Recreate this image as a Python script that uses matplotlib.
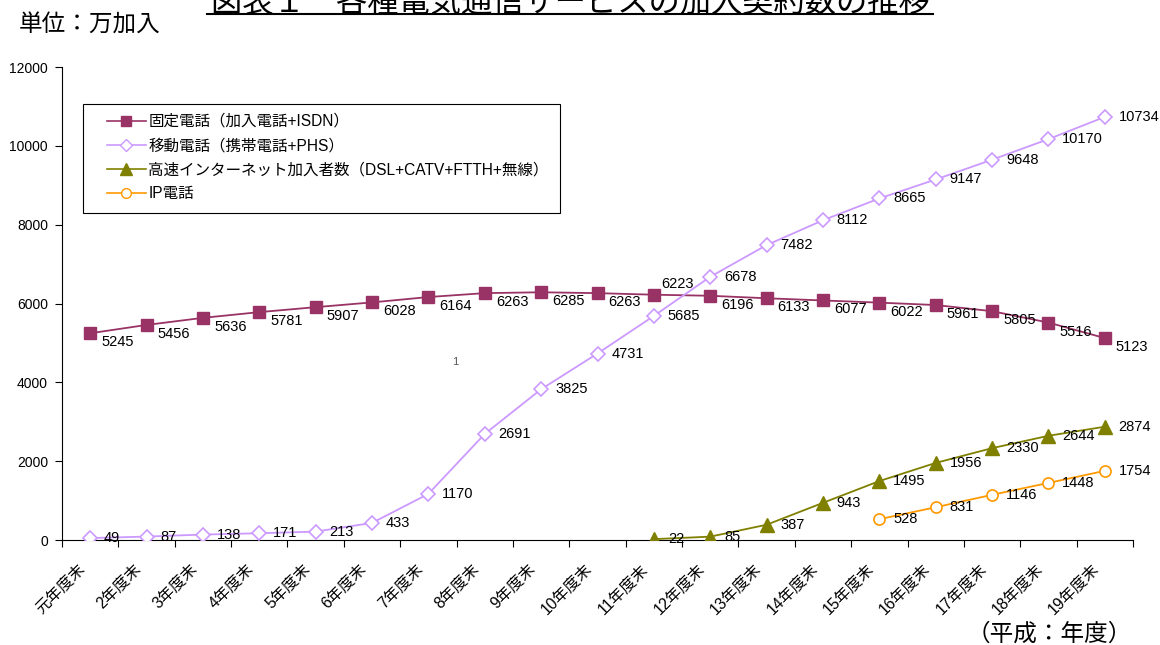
import matplotlib
matplotlib.use("Agg")
import matplotlib.pyplot as plt
from matplotlib.lines import Line2D
from matplotlib.patches import Rectangle
from matplotlib.transforms import ScaledTranslation
import numpy as np

plt.rcParams['font.family'] = ['Liberation Sans', 'Noto Sans CJK JP', 'DejaVu Sans']

categories = ["元年度末", "2年度末", "3年度末", "4年度末", "5年度末", "6年度末", "7年度末",
              "8年度末", "9年度末", "10年度末", "11年度末", "12年度末", "13年度末", "14年度末",
              "15年度末", "16年度末", "17年度末", "18年度末", "19年度末"]
fixed = [5245, 5456, 5636, 5781, 5907, 6028, 6164, 6263, 6285, 6263, 6223, 6196, 6133,
         6077, 6022, 5961, 5805, 5516, 5123]
mobile = [49, 87, 138, 171, 213, 433, 1170, 2691, 3825, 4731, 5685, 6678, 7482, 8112,
          8665, 9147, 9648, 10170, 10734]
broadband = [22, 85, 387, 943, 1495, 1956, 2330, 2644, 2874]   # from 11年度末
ip_phone = [528, 831, 1146, 1448, 1754]                        # from 15年度末
yticks = [0, 2000, 4000, 6000, 8000, 10000, 12000]

names = ["固定電話（加入電話+ISDN）", "移動電話（携帯電話+PHS）",
         "高速インターネット加入者数（DSL+CATV+FTTH+無線）", "IP電話"]

W, H = 1160, 645
fig = plt.figure(figsize=(11.6, 6.45), dpi=100)
AX_L, AX_R, AX_T, AX_B = 62, 1133, 67, 540
ax = fig.add_axes([AX_L/W, 1-AX_B/H, (AX_R-AX_L)/W, (AX_B-AX_T)/H])

def axfrac(px, py):
    return ((px-AX_L)/(AX_R-AX_L), (AX_B-py)/(AX_B-AX_T))

n = len(categories)
x = np.arange(n)
x_bb = x[n-len(broadband):]
x_ip = x[n-len(ip_phone):]

c_fixed = "#993366"
c_mob = "#CC99FF"
c_bb = "#808000"
c_ip = "#FF9900"

ax.plot(x, fixed, color=c_fixed, lw=1.3, marker='s', ms=8, mfc=c_fixed, mec=c_fixed, zorder=3)
ax.plot(x, mobile, color=c_mob, lw=1.3, marker='D', ms=7, mfc='white', mec=c_mob, mew=1.2, zorder=3)
ax.plot(x_bb, broadband, color=c_bb, lw=1.3, marker='^', ms=10, mfc=c_bb, mec=c_bb, zorder=3)
ax.plot(x_ip, ip_phone, color=c_ip, lw=1.3, marker='o', ms=8, mfc='white', mec=c_ip, mew=1.2, zorder=3)

fs = 10.5
for xi, v in zip(x, fixed):
    if xi == 10:
        ax.annotate(str(v), (xi, v), xytext=(5, 7.5), textcoords='offset points', fontsize=fs, va='center', ha='left')
    else:
        ax.annotate(str(v), (xi, v), xytext=(8, -6.5), textcoords='offset points', fontsize=fs, va='center', ha='left')
for xi, v in zip(x, mobile):
    ax.annotate(str(v), (xi, v), xytext=(10, 0), textcoords='offset points', fontsize=fs, va='center', ha='left')
for xi, v in zip(x_bb, broadband):
    ax.annotate(str(v), (xi, v), xytext=(10, 0), textcoords='offset points', fontsize=fs, va='center', ha='left')
for xi, v in zip(x_ip, ip_phone):
    ax.annotate(str(v), (xi, v), xytext=(10, 0), textcoords='offset points', fontsize=fs, va='center', ha='left')

ax.set_xlim(-0.5, n-0.5)
ax.set_ylim(0, 12000)
ax.set_yticks(yticks)
ax.set_yticklabels([str(t) for t in yticks], fontsize=10)
ax.set_xticks(np.arange(-0.5, n, 1.0))
ax.set_xticklabels([])
ax.set_xticks(x, minor=True)
ax.set_xticklabels(categories, minor=True, rotation=45, ha='right', va='center',
                   rotation_mode='anchor', fontsize=11.3)
ax.tick_params(axis='x', which='minor', length=0, pad=19)
ax.tick_params(axis='x', which='major', length=5, direction='out', width=0.8)
ax.tick_params(axis='y', length=5, direction='out', width=0.8, pad=5)
shift = ScaledTranslation(-8/100, 0, fig.dpi_scale_trans)
for lab in ax.get_xticklabels(minor=True):
    lab.set_transform(lab.get_transform() + shift)
for s in ['top', 'right']:
    ax.spines[s].set_visible(False)
ax.spines['left'].set_linewidth(0.8)
ax.spines['bottom'].set_linewidth(0.8)

# legend box
bx0, by0 = axfrac(83, 213)
bx1, by1 = axfrac(560, 104)
ax.add_patch(Rectangle((bx0, by0), bx1-bx0, by1-by0, transform=ax.transAxes, facecolor='white',
                       edgecolor='black', lw=0.8, zorder=4, clip_on=False))
handles = [
    Line2D([], [], color=c_fixed, lw=1.2, marker='s', ms=7, mfc=c_fixed, mec=c_fixed),
    Line2D([], [], color=c_mob, lw=1.2, marker='D', ms=6, mfc='white', mec=c_mob),
    Line2D([], [], color=c_bb, lw=1.2, marker='^', ms=8, mfc=c_bb, mec=c_bb),
    Line2D([], [], color=c_ip, lw=1.2, marker='o', ms=7, mfc='white', mec=c_ip),
]
leg = ax.legend(handles, names, loc='upper left', bbox_to_anchor=axfrac(107, 114),
                fontsize=11.2, frameon=False, borderaxespad=0, borderpad=0,
                handlelength=2.5, labelspacing=0.58, handletextpad=0.15)
leg.set_zorder(5)

ax.text(*axfrac(455, 362), "1", transform=ax.transAxes, fontsize=8, color='#555555',
        ha='center', va='center')

fig.text(570/W, 1-12/H, "図表１　各種電気通信サービスの加入契約数の推移", fontsize=22.5,
         ha='center', va='baseline', family=['Noto Sans CJK JP'])
fig.add_artist(Line2D([207/W, 933/W], [1-14/H, 1-14/H], color='black', lw=1.5,
                      transform=fig.transFigure))
fig.text(19/W, 1-25/H, "単位：万加入", fontsize=17, ha='left', va='center',
         family=['Noto Sans CJK JP'])
fig.text(1132/W, 1-634/H, "（平成：年度）", fontsize=17, ha='right', va='center',
         family=['Noto Sans CJK JP'])

fig.savefig("out.png", dpi=100)
